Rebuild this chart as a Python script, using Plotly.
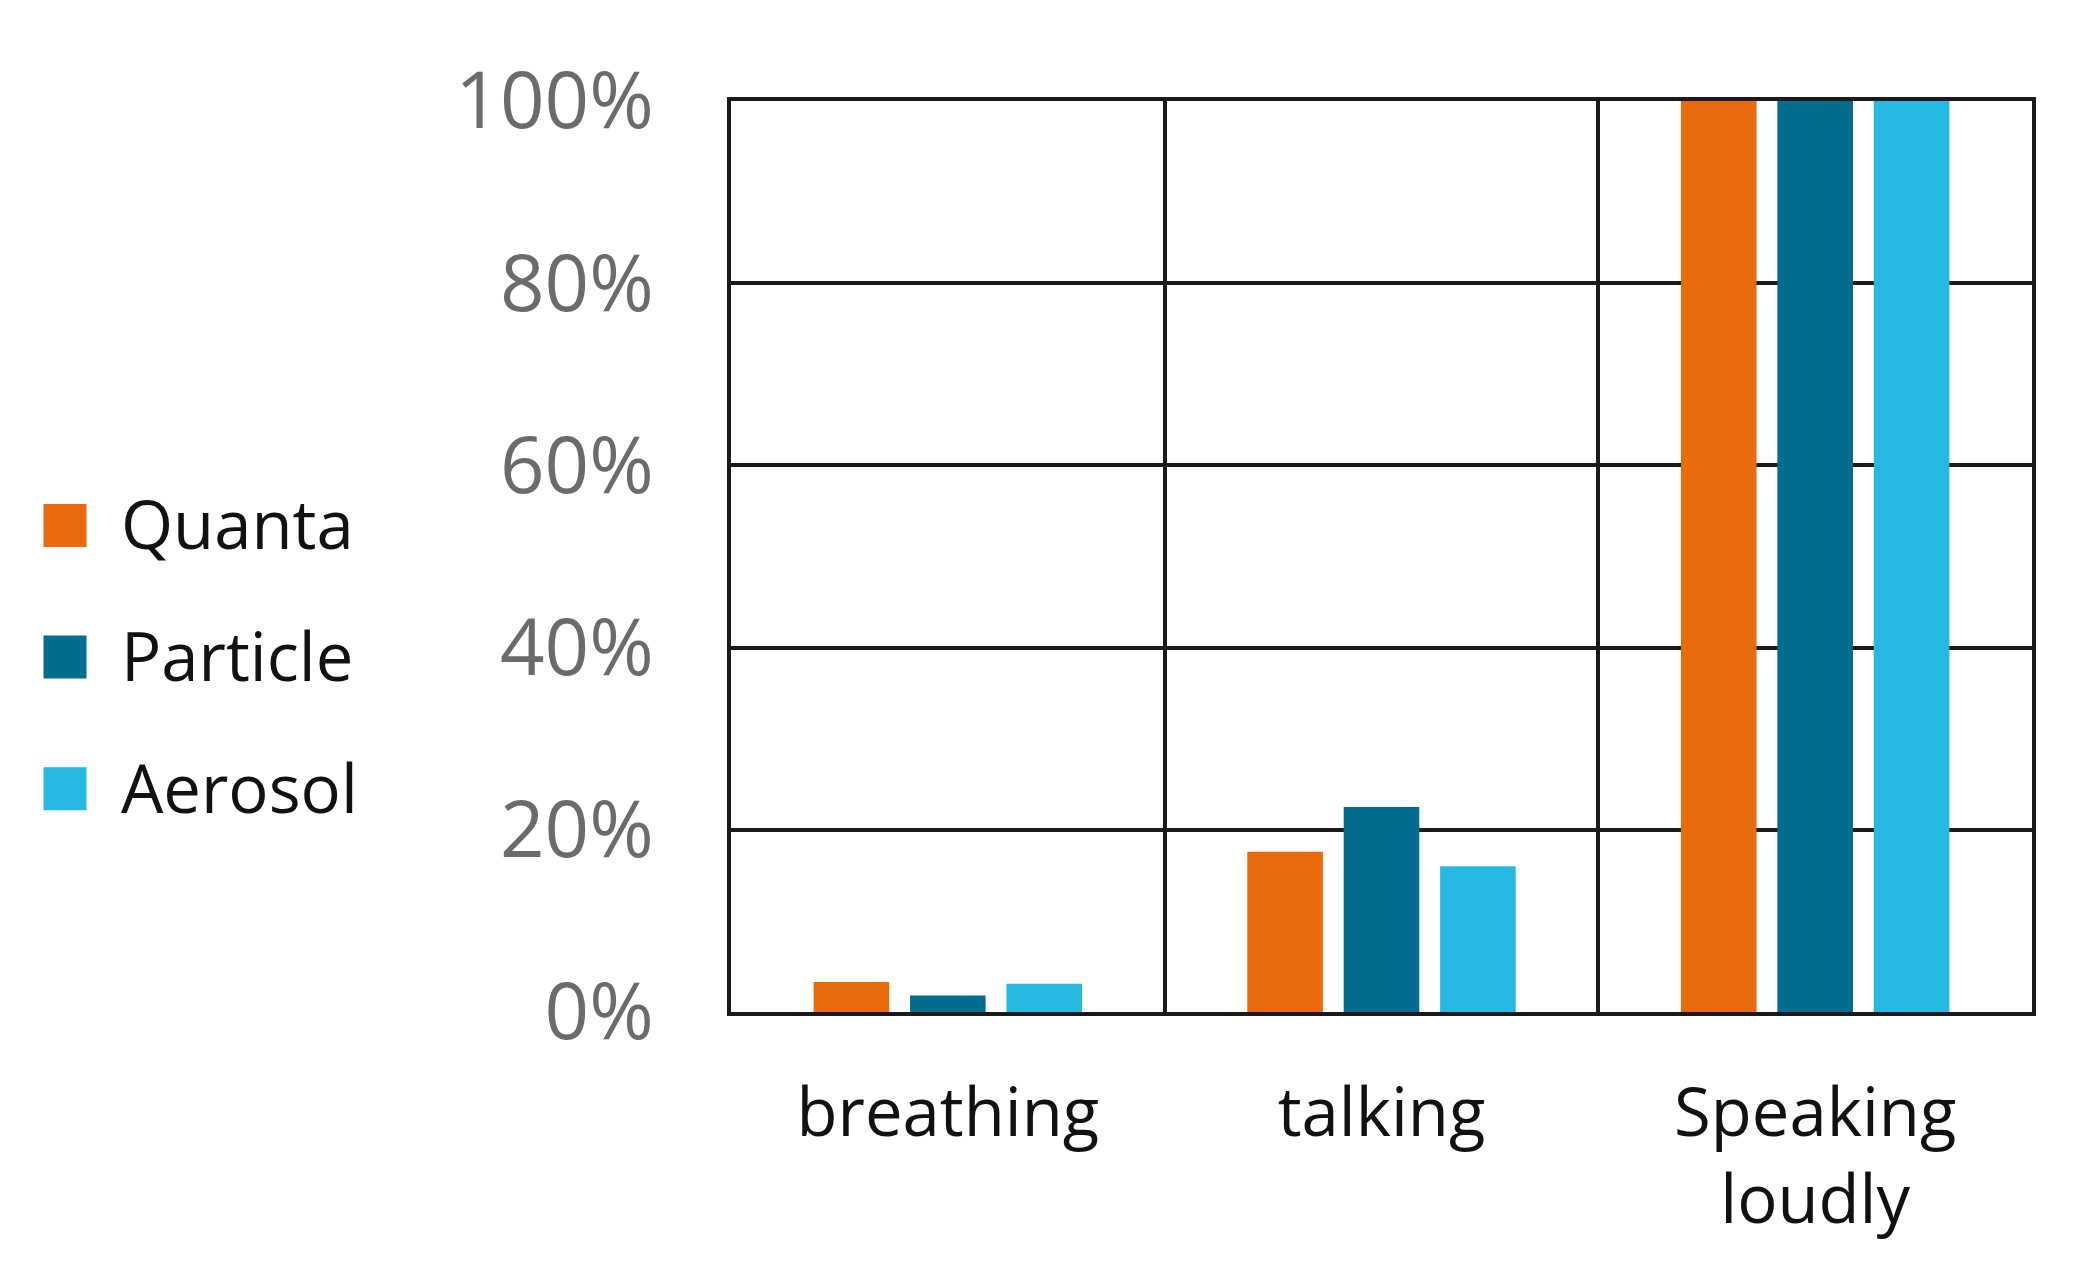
import plotly.graph_objects as go

categories = ["breathing", "talking", "Speaking<br>loudly"]
series_names = ["Quanta", "Particle", "Aerosol"]
quanta = [3.3, 17.6, 100]
particle = [1.8, 22.5, 100]
aerosol = [3.1, 16.0, 100]
series_values = [quanta, particle, aerosol]
colors = ["#E86A0A", "#036C8F", "#25B9E2"]
y_ticks = [0, 20, 40, 60, 80, 100]
y_tick_labels = ["0%", "20%", "40%", "60%", "80%", "100%"]

# page body has an 8px default margin; keep figure inside the window
OFF = 8
W, H = 2088 - 2 * OFF, 1272 - 2 * OFF
ML, MT = 0, 101 - OFF
MR = 2088 - 2032 - OFF
MB = 1272 - 1012 - OFF
plot_w = W - ML - MR
plot_h = H - MT - MB

fig = go.Figure()
for name, vals, col in zip(series_names, series_values, colors):
    fig.add_trace(go.Bar(x=categories, y=vals, name=name, marker_color=col,
                         marker_line_width=0, showlegend=False,
                         xaxis="x", yaxis="y"))

# custom legend drawn on its own small axes
fig.add_trace(go.Scatter(x=[0] * len(series_names), y=series_names, mode="markers",
                         marker=dict(symbol="square", size=43, color=colors, line_width=0),
                         showlegend=False, xaxis="x2", yaxis="y2", hoverinfo="skip"))
for name in series_names:
    fig.add_annotation(x=0, y=name, xref="x2", yref="y2", text=name, showarrow=False,
                       xanchor="left", yanchor="middle", xshift=54, yshift=2,
                       font=dict(family="Open Sans", size=67, color="#111111"))

grid_col = "#1a1a1a"
x0_frac = (731 - OFF) / plot_w
leg_w = 0.3 * plot_w
a = (65 - OFF) / leg_w
fig.update_layout(
    width=W, height=H,
    margin=dict(l=ML, r=MR, t=MT, b=MB, pad=0),
    paper_bgcolor="white", plot_bgcolor="white",
    barmode="group", bargap=0.333, bargroupgap=0.216,
    font=dict(family="Open Sans"),
    xaxis=dict(domain=[x0_frac, 1], type="category", tickson="boundaries",
               showgrid=True, gridcolor=grid_col, gridwidth=3.5,
               showline=True, mirror=True, linecolor=grid_col, linewidth=3.5,
               ticks="", ticklabelstandoff=40,
               tickfont=dict(family="Open Sans", size=67, color="#111111"),
               range=[-0.5, 2.5]),
    yaxis=dict(range=[0, 100], tickvals=y_ticks, ticktext=y_tick_labels,
               showgrid=True, gridcolor=grid_col, gridwidth=3.5,
               showline=True, mirror=True, linecolor=grid_col, linewidth=3.5,
               zeroline=False, ticks="", ticklabelstandoff=58,
               tickfont=dict(family="Open Sans", size=78, color="#6b6b6b")),
    xaxis2=dict(domain=[0, 0.3], range=[-a, 1 - a], visible=False, anchor="y2"),
    yaxis2=dict(domain=[0.1727, 0.6064], range=[2.5, -0.5], visible=False,
                anchor="x2", type="category", categoryarray=series_names),
)

fig.write_html("out.html")
